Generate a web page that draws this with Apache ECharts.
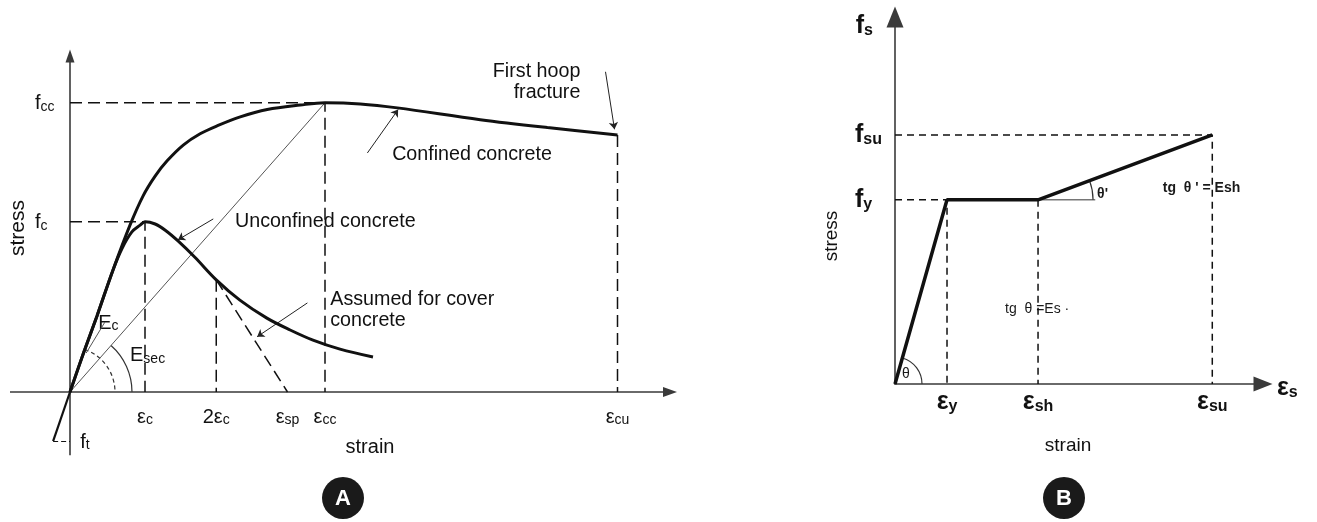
<!DOCTYPE html>
<html><head><meta charset="utf-8">
<script src="https://cdn.jsdelivr.net/npm/echarts@6/dist/echarts.min.js"></script>
<style>html,body{margin:0;padding:0;background:#fff}#c{width:1317px;height:522px}</style>
</head><body><div id="c"></div>
<script>
// ===== Panel A: concrete stress–strain (confined / unconfined) =====
const concreteStrainTicks  = [0.002, 0.0039, 0.0058, 0.0068, 0.0146];
const concreteStrainLabels = [['ε','c'], ['2ε','c'], ['ε','sp'], ['ε','cc'], ['ε','cu']];
const concreteStressTicks  = [30.2, 51.3];
const concreteStressLabels = [['f','c'], ['f','cc']];
const concreteAxisExtent = {strainMin:-0.0016, stressMin:-11.2};
const confinedCurve = [[0,0],[0.00037,7.1],[0.00072,13.5],[0.00115,21.7],[0.0016,29.6],[0.00195,34.8],[0.00227,38.3],[0.00259,41.0],[0.00302,43.8],[0.00347,45.8],[0.00392,47.2],[0.00454,48.8],[0.00526,50.1],[0.00614,50.9],[0.0068,51.3],[0.00774,51.1],[0.00873,50.4],[0.01094,48.3],[0.01273,46.9],[0.0146,45.6]];
const unconfinedCurve = [[0,0],[0.00037,7.1],[0.00072,13.5],[0.00115,21.7],[0.00139,25.5],[0.00165,28.4],[0.00187,29.6],[0.002,30.2],[0.00227,29.8],[0.00254,28.7],[0.00288,26.8],[0.00333,23.9],[0.0039,19.9],[0.00453,16.3],[0.00525,13.1],[0.00587,11.0],[0.00648,9.2],[0.0072,7.6],[0.00808,6.2]];
const tensionBranch  = [[0,0],[-0.00045,-8.7]];
const coverSpallLine = [[0.0039,19.9],[0.0058,0]];
const secantLine     = [[0,0],[0.0068,51.3]];
const concreteNotes = [
  {text:'First hoop\nfracture', at:[0.01361,54.9], side:'left'},
  {text:'Confined concrete', at:[0.00859,42.1], side:'right'},
  {text:'Unconfined concrete', at:[0.0044,30.2], side:'right'},
  {text:'Assumed for cover\nconcrete', at:[0.00694,14.6], side:'right'},
  {text:'{a|E}{b|c}', at:[0.00075,12.4], side:'right'},
  {text:'{a|E}{b|sec}', at:[0.0016,6.6], side:'right'},
  {text:'{a|f}{b|t}', at:[0.00027,-8.7], side:'right'}
];
const concreteLeaders = [
  [[0.01428,56.8],[0.01452,46.6]],
  [[0.00793,42.4],[0.00875,50.1]],
  [[0.00382,30.7],[0.00288,27.0]],
  [[0.00633,15.8],[0.00499,9.8]]
];
const ecLeader = [[0.00043,6.9],[0.00093,12.4]];

// ===== Panel B: reinforcing steel =====
const steelStrainTicks  = [0.002, 0.0055, 0.0122];
const steelStrainLabels = ['y','sh','su'];
const steelStressTicks  = [420, 568];
const steelStressLabels = ['y','su'];
const steelCurve = [[0,0],[0.002,420],[0.0055,420],[0.0122,568]];
const hardeningRefEnd = 0.0077;
const steelNotes = [
  {text:'tg  θ =Es ·', at:[0.00423,171], bold:false},
  {text:'tg  θ \' = Esh', at:[0.0103,447], bold:true},
  {text:'θ\'', at:[0.00777,433], bold:true},
  {text:'θ', at:[0.00027,23], bold:false}
];

const FONT = 'Liberation Sans, Arial, sans-serif';
const INK = '#111';
const AX = '#3a3a3a';

function lookup(vals, labels, v){
  const i = vals.findIndex(x => Math.abs(x - v) < 1e-7 * Math.max(1, Math.abs(x)));
  return i < 0 ? null : labels[i];
}
const richA = {
  a:{fontSize:20, fontFamily:FONT, color:INK, verticalAlign:'bottom', lineHeight:22},
  b:{fontSize:14, fontFamily:FONT, color:INK, verticalAlign:'bottom', lineHeight:18}
};
const richB = {
  a:{fontSize:25, fontFamily:FONT, fontWeight:'bold', color:INK, verticalAlign:'bottom', lineHeight:26},
  b:{fontSize:16, fontFamily:FONT, fontWeight:'bold', color:INK, verticalAlign:'bottom', lineHeight:10}
};

const [eC, e2C, eSp, eCc, eCu] = concreteStrainTicks;
const [fC, fCc] = concreteStressTicks;
const [eY, eSh, eSu] = steelStrainTicks;
const [fY, fSu] = steelStressTicks;

function dashed(data, xi, w, dash){
  return {type:'line', xAxisIndex:xi, yAxisIndex:xi, data, showSymbol:false, silent:true, clip:false,
    lineStyle:{color:INK, width:w, type:dash}};
}
function solid(data, xi, w, color, smooth){
  return {type:'line', xAxisIndex:xi, yAxisIndex:xi, data, showSymbol:false, silent:true, clip:false, smooth:smooth||false,
    lineStyle:{color:color||INK, width:w}};
}
function segs(list, xi, w, color, type, symbol){
  return {type:'lines', coordinateSystem:'cartesian2d', xAxisIndex:xi, yAxisIndex:xi, silent:true, clip:false,
    symbol:symbol||['none','none'], symbolSize:7, lineStyle:{color, width:w, opacity:1, type:type||'solid'},
    data:list.map(c => ({coords:c}))};
}
function notes(list, xi, fmt){
  return {type:'scatter', xAxisIndex:xi, yAxisIndex:xi, symbolSize:0, silent:true, clip:false,
    itemStyle:{color:INK, opacity:1},
    data:list.map(n => ({value:n.at, label:Object.assign({show:true, distance:0, formatter:n.text, opacity:1}, fmt(n))}))};
}

const chart = echarts.init(document.getElementById('c'));
chart.setOption({
  animation:false,
  backgroundColor:'#fff',
  grid:[
    {left:70, top:56, width:600, height:336, outerBoundsMode:'none'},
    {left:895, top:17, width:368, height:367, outerBoundsMode:'none'}
  ],
  xAxis:[
    {type:'value', gridIndex:0, min:0, max:0.016,
      axisLine:{onZero:false, symbol:['none','triangle'], symbolSize:[10,14], lineStyle:{color:AX, width:1.6}},
      axisTick:{show:false}, splitLine:{show:false},
      axisLabel:{customValues:concreteStrainTicks, margin:13,
        formatter:v => { const l = lookup(concreteStrainTicks, concreteStrainLabels, v); return l ? `{a|${l[0]}}{b|${l[1]}}` : ''; },
        rich:richA},
      name:'strain', nameLocation:'middle', nameGap:45, nameTextStyle:{fontSize:20, fontFamily:FONT, color:INK}},
    {type:'value', gridIndex:1, min:0, max:0.01415,
      axisLine:{onZero:false, symbol:['none','triangle'], symbolSize:[15,19], lineStyle:{color:AX, width:1.6}},
      axisTick:{show:false}, splitLine:{show:false},
      axisLabel:{customValues:steelStrainTicks, margin:5,
        formatter:v => { const l = lookup(steelStrainTicks, steelStrainLabels, v); return l ? `{a|ε}{b|${l}}` : ''; },
        rich:richB},
      name:'{a|ε}{b|s}', nameLocation:'end', nameGap:14, nameTextStyle:{rich:richB, padding:[8,0,0,0]}},
    {type:'value', gridIndex:1, min:0, max:0.01415, position:'bottom',
      axisLine:{show:false, onZero:false}, axisTick:{show:false}, axisLabel:{show:false}, splitLine:{show:false},
      name:'strain', nameLocation:'middle', nameGap:52,
      nameTextStyle:{fontSize:19, fontFamily:FONT, color:INK, padding:[0,22,0,0]}}
  ],
  yAxis:[
    {type:'value', gridIndex:0, min:0, max:59.6,
      axisLine:{show:true, onZero:false, symbol:['none','triangle'], symbolSize:[9,13], lineStyle:{color:AX, width:1.6}},
      axisTick:{show:false}, splitLine:{show:false},
      axisLabel:{customValues:concreteStressTicks, margin:35, align:'left',
        formatter:v => { const l = lookup(concreteStressTicks, concreteStressLabels, v); return l ? `{a|${l[0]}}{b|${l[1]}}` : ''; },
        rich:richA}},
    {type:'value', gridIndex:1, min:0, max:837,
      axisLine:{show:true, onZero:false, symbol:['none','triangle'], symbolSize:[17,21], lineStyle:{color:AX, width:1.6}},
      axisTick:{show:false}, splitLine:{show:false},
      axisLabel:{customValues:steelStressTicks, margin:40, align:'left',
        formatter:v => { const l = lookup(steelStressTicks, steelStressLabels, v); return l ? `{a|f}{b|${l}}` : ''; },
        rich:richB},
      name:'{a|f}{b|s}', nameLocation:'end', nameGap:-22, nameTextStyle:{rich:richB, align:'right', padding:[0,22,0,0]}}
  ],
  series:[
    // Panel A: axes continue past the origin into negative strain / tension
    segs([[[concreteAxisExtent.strainMin,0],[0,0]], [[0,concreteAxisExtent.stressMin],[0,0]]], 0, 1.6, AX),
    segs([tensionBranch], 0, 2.2, INK),
    segs([[tensionBranch[1],[0,tensionBranch[1][1]]]], 0, 1.2, INK, [5,3]),
    // Panel A guides
    dashed([[0,fCc],[eCc,fCc],[eCc,0]], 0, 1.5, [12,6]),
    dashed([[0,fC],[eC,fC],[eC,0]], 0, 1.5, [12,6]),
    dashed([coverSpallLine[0],[e2C,0]], 0, 1.5, [12,6]),
    dashed([confinedCurve[confinedCurve.length-1],[eCu,0]], 0, 1.5, [12,6]),
    dashed(coverSpallLine, 0, 1.5, [12,6]),
    solid(secantLine, 0, 1, '#555'),
    solid(ecLeader, 0, 1, '#555'),
    solid(confinedCurve, 0, 3, INK, 0.35),
    solid(unconfinedCurve, 0, 3, INK, 0.35),
    segs(concreteLeaders, 0, 1, '#222', 'solid', ['none','arrow']),
    notes(concreteNotes, 0, n => ({position:n.side, fontSize:19.7, lineHeight:21, fontFamily:FONT, color:INK,
      align:n.side==='left'?'right':'left', rich:richA})),
    // Panel B
    dashed([[0,fSu],[eSu,fSu],[eSu,0]], 1, 1.5, [7,5]),
    dashed([[0,fY],[eY,fY],[eY,0]], 1, 1.5, [7,5]),
    dashed([[eSh,fY],[eSh,0]], 1, 1.5, [7,5]),
    solid([[eSh,fY],[hardeningRefEnd,fY]], 1, 1, '#333'),
    solid(steelCurve, 1, 3.5),
    notes(steelNotes, 1, n => ({position:'right', fontSize:14, fontWeight:n.bold?'bold':'normal', fontFamily:FONT, color:'#1a1a1a'}))
  ]
});

// Angle arcs and panel badges, anchored through the chart's own coordinate conversion
const P0 = p => chart.convertToPixel({gridIndex:0}, p);
const P1 = p => chart.convertToPixel({gridIndex:1}, p);
const ang = (o, p) => Math.atan2(o[1]-p[1], p[0]-o[0]);
const oA = P0([0,0]);
const angTan = ang(oA, P0(confinedCurve[1]));
const angSec = ang(oA, P0(secantLine[1]));
const oB = P1([0,0]);
const angEl = ang(oB, P1(steelCurve[1]));
const hB = P1(steelCurve[2]);
const angHard = ang(hB, P1(steelCurve[3]));
function arc(c, r, a, dash, w){
  return {type:'arc', silent:true, shape:{cx:c[0], cy:c[1], r, startAngle:-a, endAngle:0, clockwise:true},
    style:{stroke:'#333', fill:null, lineWidth:w||1.2, lineDash:dash||null}};
}
function badge(x, y, letter){
  return {type:'group', x, y, children:[
    {type:'circle', shape:{cx:0, cy:0, r:21}, style:{fill:'#1a1a1a'}},
    {type:'text', style:{text:letter, x:0, y:1, align:'center', verticalAlign:'middle', fill:'#fff', font:'bold 22px ' + FONT}}
  ]};
}
function vText(x, y, t, size){
  return {type:'text', x, y, rotation:Math.PI/2,
    style:{text:t, align:'center', verticalAlign:'middle', fill:INK, font:size + 'px ' + FONT}};
}
chart.setOption({graphic:[
  arc(oA, 45, angTan, [4,3], 1.2),
  arc(oA, 62, angSec, null, 1.2),
  arc(oB, 27, angEl, null, 1.2),
  arc(hB, 55, angHard, null, 1.2),
  vText(18, 228, 'stress', 21),
  vText(832, 236, 'stress', 19),
  badge(343, 498, 'A'),
  badge(1064, 498, 'B')
]});
</script></body></html>
